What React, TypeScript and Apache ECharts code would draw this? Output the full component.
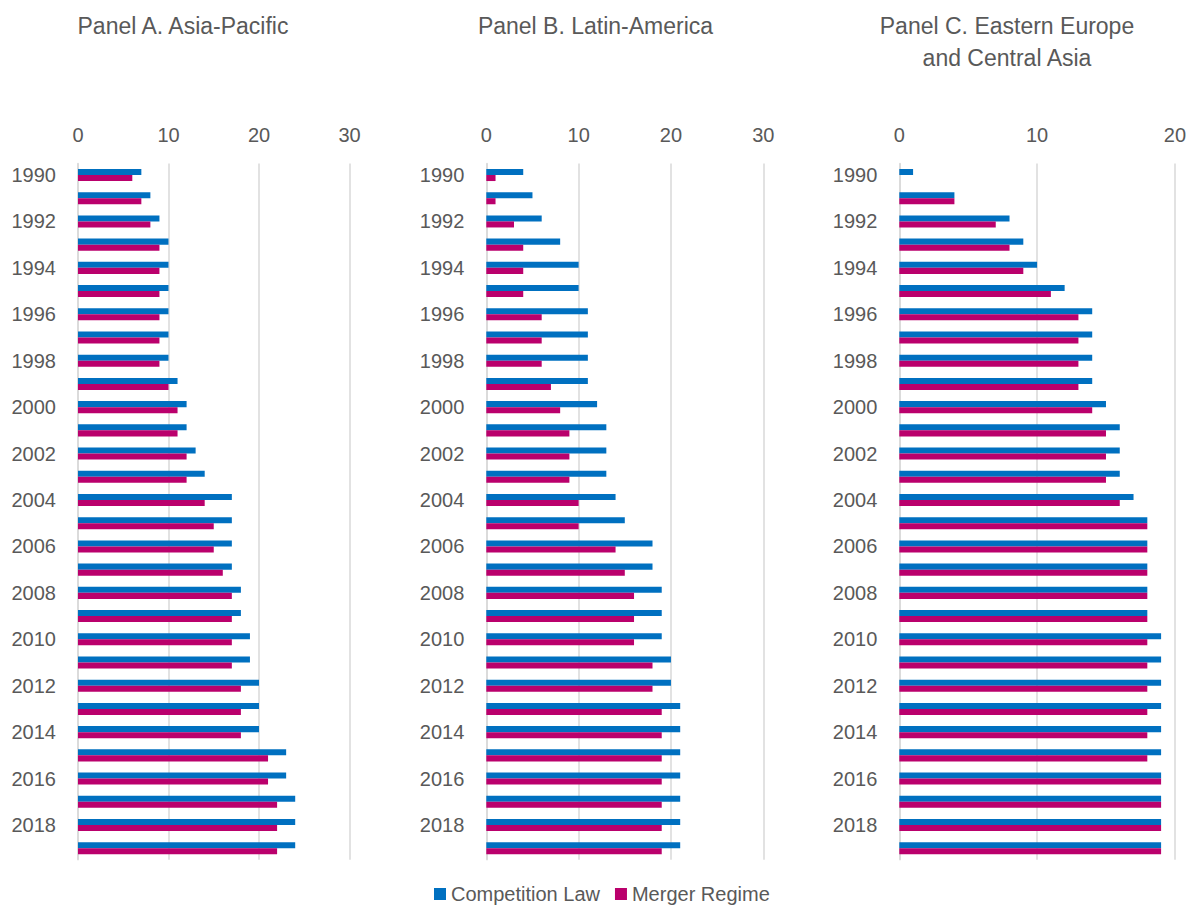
import React, { useEffect, useRef } from "react";
import * as echarts from "echarts";

const years = [
  "1990","1991","1992","1993","1994","1995","1996","1997","1998","1999",
  "2000","2001","2002","2003","2004","2005","2006","2007","2008","2009",
  "2010","2011","2012","2013","2014","2015","2016","2017","2018","2019",
];

const asiaCompetition = [7,8,9,10,10,10,10,10,10,11,12,12,13,14,17,17,17,17,18,18,19,19,20,20,20,23,23,24,24,24];
const asiaMerger = [6,7,8,9,9,9,9,9,9,10,11,11,12,12,14,15,15,16,17,17,17,17,18,18,18,21,21,22,22,22];

const latamCompetition = [4,5,6,8,10,10,11,11,11,11,12,13,13,13,14,15,18,18,19,19,19,20,20,21,21,21,21,21,21,21];
const latamMerger = [1,1,3,4,4,4,6,6,6,7,8,9,9,9,10,10,14,15,16,16,16,18,18,19,19,19,19,19,19,19];

const eecaCompetition = [1,4,8,9,10,12,14,14,14,14,15,16,16,16,17,18,18,18,18,18,19,19,19,19,19,19,19,19,19,19];
const eecaMerger = [0,4,7,8,9,11,13,13,13,13,14,15,15,15,16,18,18,18,18,18,18,18,18,18,18,18,19,19,19,19];

const panelTitles = ["Panel A. Asia-Pacific", "Panel B. Latin-America", "Panel C. Eastern Europe\nand Central Asia"];
const xMaxes = [30, 30, 20];
const seriesNames = ["Competition Law", "Merger Regime"];

const FONT = "'Liberation Sans', Arial, sans-serif";
const TEXT = "#595959";
const GRID = "#d9d9d9";
const BLUE = "#0070C0";
const MAGENTA = "#BA006C";

export default function App() {
  const ref = useRef<HTMLDivElement>(null);
  useEffect(() => {
    if (!ref.current) return;
    const chart = echarts.init(ref.current, undefined, { renderer: "svg" });
    const grids = [
      { left: 78, width: 271.5 },
      { left: 486.3, width: 277 },
      { left: 899.3, width: 277.4 },
    ].map((g) => ({ ...g, top: 163.4, height: 696.4 }));
    const data = [
      [asiaCompetition, asiaMerger],
      [latamCompetition, latamMerger],
      [eecaCompetition, eecaMerger],
    ];
    const titleCenters = [183, 595.5, 1007];
    const option: any = {
      animation: false,
      textStyle: { fontFamily: FONT },
      grid: grids,
      graphic: panelTitles.map((t, i) => ({
        type: "text",
        x: titleCenters[i],
        y: 10,
        style: {
          text: t,
          fill: TEXT,
          font: `23px ${FONT}`,
          textAlign: "center",
          lineHeight: 32,
        },
      })),
      legend: {
        data: seriesNames,
        left: 434,
        top: 884,
        padding: 0,
        itemWidth: 12,
        itemHeight: 12,
        itemGap: 15,
        icon: "rect",
        textStyle: { color: TEXT, fontSize: 20, fontFamily: FONT },
      },
      xAxis: xMaxes.map((m, i) => ({
        type: "value",
        gridIndex: i,
        position: "top",
        min: 0,
        max: m,
        interval: 10,
        axisLine: { show: false },
        axisTick: { show: false },
        axisLabel: { color: TEXT, fontSize: 20, fontFamily: FONT, margin: 18 },
        splitLine: { show: true, lineStyle: { color: GRID, width: 1.5 } },
      })),
      yAxis: [0, 1, 2].map((i) => ({
        type: "category",
        gridIndex: i,
        data: years,
        inverse: true,
        axisTick: { show: false },
        axisLine: { show: true, lineStyle: { color: GRID, width: 1.5 } },
        axisLabel: { color: TEXT, fontSize: 20, fontFamily: FONT, interval: 1, margin: 22 },
      })),
      series: data.flatMap((pair, i) =>
        pair.map((vals, j) => ({
          type: "bar",
          name: seriesNames[j],
          xAxisIndex: i,
          yAxisIndex: i,
          data: vals,
          barGap: "0%",
          barCategoryGap: "48%",
          itemStyle: { color: j === 0 ? BLUE : MAGENTA },
        }))
      ),
    };
    chart.setOption(option);
    return () => chart.dispose();
  }, []);
  return (
    <div
      ref={ref}
      style={{ position: "fixed", left: 0, top: 0, width: 1189, height: 905, background: "#fff" }}
    />
  );
}
